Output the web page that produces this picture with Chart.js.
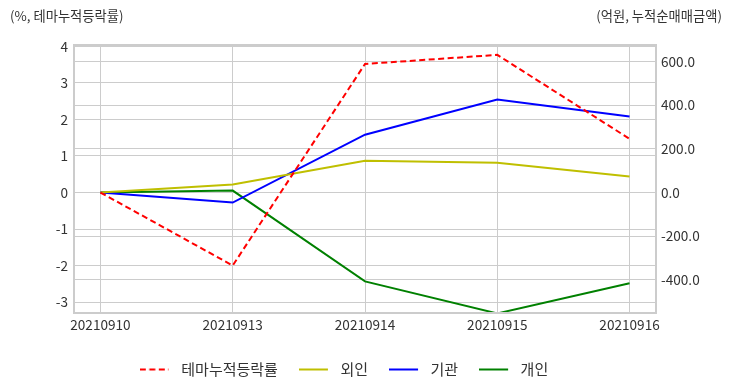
<!DOCTYPE html>
<html>
<head>
<meta charset="utf-8">
<script src="https://cdn.jsdelivr.net/npm/chart.js@4"></script>
<style>
  html, body { margin: 0; padding: 0; background: #fff; }
  #wrap { position: relative; width: 732px; height: 392px; }
  canvas { position: absolute; left: 0; top: 0; }
  .hdr { position: absolute; top: 6px; font: 13.3px "Noto Sans CJK KR", "Noto Sans", sans-serif; color: #333; white-space: nowrap; }
</style>
</head>
<body>
<div id="wrap">
  <canvas id="c" width="732" height="392"></canvas>
  <div class="hdr" id="hl" style="left:10px;">(%, 테마누적등락률)</div>
  <div class="hdr" id="hr" style="right:10px;">(억원, 누적순매매금액)</div>
</div>
<script>
const dates = ['20210910', '20210913', '20210914', '20210915', '20210916'];
const themeRate = [0, -2.0, 3.52, 3.77, 1.47];      // %, left axis
const foreign = [0, 37, 146, 137, 73];              // 억원, right axis
const institution = [0, -46, 265, 426, 348];        // 억원, right axis
const individual = [0, 9, -407, -554, -416];        // 억원, right axis
const leftTicks = [-3, -2, -1, 0, 1, 2, 3, 4];
const rightTicks = [-400, -200, 0, 200, 400, 600];

const FONT = '"Noto Sans CJK KR", "Noto Sans", sans-serif';
const toPts = arr => arr.map((v, i) => ({ x: i, y: v }));

// legend swatch: a short line (dashed where needed) with blank space after it
function swatch(color, dash) {
  const cv = document.createElement('canvas');
  cv.width = 34; cv.height = 4;
  const g = cv.getContext('2d');
  g.strokeStyle = color; g.lineWidth = 2;
  g.setLineDash(dash || []);
  g.beginPath(); g.moveTo(0, 2); g.lineTo(29, 2); g.stroke();
  return cv;
}

const frame = {
  id: 'frame',
  afterDatasetsDraw(chart) {
    const a = chart.chartArea, ctx = chart.ctx;
    ctx.save();
    ctx.strokeStyle = '#cccccc';
    ctx.lineWidth = 2;
    ctx.strokeRect(a.left, a.top, a.right - a.left, a.bottom - a.top);
    ctx.restore();
  },
  afterLayout(chart) {
    const lg = chart.legend;
    const shift = -22;
    lg.left += shift; lg.right += shift;
  }
};

new Chart(document.getElementById('c'), {
  type: 'line',
  data: {
    datasets: [
      { label: '테마누적등락률', data: toPts(themeRate), yAxisID: 'yL', borderColor: '#ff0000', backgroundColor: '#ff0000', borderDash: [6, 3.5], borderWidth: 2, pointStyle: swatch('#ff0000', [6, 3.5]) },
      { label: '외인', data: toPts(foreign), yAxisID: 'yR', borderColor: '#bfbf00', backgroundColor: '#bfbf00', borderWidth: 2, pointStyle: swatch('#bfbf00') },
      { label: '기관', data: toPts(institution), yAxisID: 'yR', borderColor: '#0000ff', backgroundColor: '#0000ff', borderWidth: 2, pointStyle: swatch('#0000ff') },
      { label: '개인', data: toPts(individual), yAxisID: 'yR', borderColor: '#008000', backgroundColor: '#008000', borderWidth: 2, pointStyle: swatch('#008000') }
    ]
  },
  options: {
    responsive: false,
    animation: false,
    events: [],
    elements: { point: { radius: 0 }, line: { tension: 0 } },
    layout: { padding: { top: 45, left: 0, right: 0, bottom: 5 } },
    plugins: {
      tooltip: { enabled: false },
      legend: {
        position: 'bottom',
        labels: {
          usePointStyle: true, pointStyleWidth: 34, boxHeight: 15,
          padding: 21, color: '#333', font: { family: FONT, size: 15 }
        }
      }
    },
    scales: {
      x: {
        type: 'linear', min: -0.2, max: 4.2,
        afterBuildTicks: s => { s.ticks = dates.map((d, i) => ({ value: i })); },
        afterFit: s => { s.height = 28; },
        ticks: { callback: v => dates[v], color: '#333', font: { family: FONT, size: 13.6 }, padding: 4, maxRotation: 0, autoSkip: false },
        grid: { color: '#cccccc', lineWidth: 1, drawTicks: false },
        border: { display: false }
      },
      yL: {
        position: 'left', min: -3.3, max: 4.04,
        afterBuildTicks: s => { s.ticks = leftTicks.map(v => ({ value: v })); },
        afterFit: s => { s.width = 74; },
        ticks: { color: '#333', font: { family: FONT, size: 13.6 }, padding: 6 },
        grid: { color: '#cccccc', lineWidth: 1, drawTicks: false },
        border: { display: false }
      },
      yR: {
        position: 'right', min: -552, max: 676,
        afterBuildTicks: s => { s.ticks = rightTicks.map(v => ({ value: v })); },
        afterFit: s => { s.width = 76; },
        ticks: { color: '#333', font: { family: FONT, size: 13.6 }, padding: 5, callback: v => v.toFixed(1) },
        grid: { color: '#cccccc', lineWidth: 1, drawTicks: false },
        border: { display: false }
      }
    }
  },
  plugins: [frame]
});
</script>
</body>
</html>
